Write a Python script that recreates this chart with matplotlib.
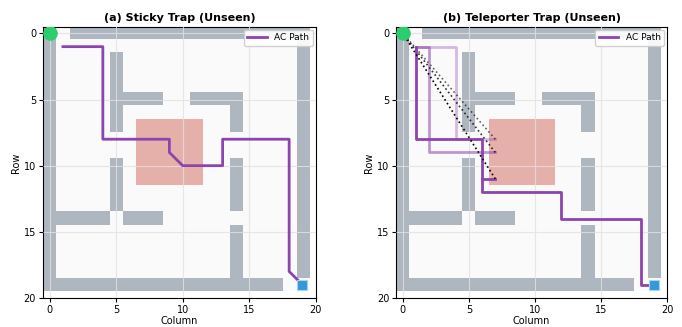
import numpy as np
import matplotlib
matplotlib.use("Agg")
import matplotlib.pyplot as plt
from matplotlib.colors import to_rgb

# maze layout: 20x20 cells, walls given as (row_start, row_end, col_start, col_end) runs
N = 20
WALL_RUNS = [
    (0, 19, 0, 0),     # left border
    (0, 0, 2, 19),     # top border
    (0, 18, 19, 19),   # right border
    (19, 19, 0, 17),   # bottom border
    (2, 7, 5, 5),
    (5, 5, 5, 8),
    (5, 5, 11, 14),
    (5, 7, 14, 14),
    (10, 13, 5, 5),
    (10, 13, 14, 14),
    (14, 14, 0, 4),
    (14, 14, 6, 8),
    (15, 19, 14, 14),
]
TRAP_ROWS = (7, 11)
TRAP_COLS = (7, 11)
START = (0, 0)
GOAL = (19, 19)

# (col, row) waypoints of the agent
PATH_A = [(1, 1), (4, 1), (4, 8), (9, 8), (9, 9), (10, 10), (13, 10), (13, 8),
          (18, 8), (18, 18), (19, 19)]

# teleporter run: each attempt ends in the trap and jumps back to start
PATH_B_ATTEMPTS = [
    [(1, 1), (4, 1), (4, 8), (7, 8)],
    [(1, 1), (2, 1), (2, 9), (7, 9)],
    [(1, 1), (1, 8), (6, 8), (6, 11), (7, 11)],
]
PATH_B_FINAL = [(6, 11), (6, 12), (12, 12), (12, 14), (18, 14), (18, 19), (19, 19)]
ATTEMPT_ALPHA = [0.35, 0.55, 1.0]

TITLES = ["(a) Sticky Trap (Unseen)", "(b) Teleporter Trap (Unseen)"]

WALL_C = "#aeb6bf"
FREE_C = "#fafafa"
TRAP_C = "#e6b0aa"
PATH_C = "#8e44ad"


def maze_image():
    img = np.ones((N, N, 3)) * np.array(to_rgb(FREE_C))
    for r0, r1, c0, c1 in WALL_RUNS:
        img[r0:r1 + 1, c0:c1 + 1] = to_rgb(WALL_C)
    img[TRAP_ROWS[0]:TRAP_ROWS[1] + 1, TRAP_COLS[0]:TRAP_COLS[1] + 1] = to_rgb(TRAP_C)
    return img


def draw_base(ax, title):
    ax.imshow(maze_image(), extent=(-0.5, N - 0.5, N - 0.5, -0.5),
              interpolation="nearest", aspect="auto", zorder=0)
    ax.set_xlim(-0.5, 20)
    ax.set_ylim(20, -0.5)
    ax.set_xticks([0, 5, 10, 15, 20])
    ax.set_yticks([0, 5, 10, 15, 20])
    ax.grid(True, color="#e2e2e2", alpha=0.8, linewidth=0.8, zorder=1)
    ax.set_axisbelow(False)
    ax.tick_params(labelsize=7, length=3, width=0.8, pad=2)
    ax.set_xlabel("Column", fontsize=7, labelpad=1)
    ax.set_ylabel("Row", fontsize=7, labelpad=2)
    ax.set_title(title, fontsize=8, fontweight="bold", pad=4)
    ax.plot(GOAL[1], GOAL[0], "s", color="#3498db", markersize=7,
            markeredgecolor="#a9d2ef", markeredgewidth=0.8, zorder=4)
    ax.plot(START[1], START[0], "o", color="#2ecc71", markersize=9.5, zorder=5)


def xy(pts):
    return [p[0] for p in pts], [p[1] for p in pts]


fig = plt.figure(figsize=(6.82, 3.27), dpi=100)
ax1 = fig.add_axes([0.063, 0.089, 0.4, 0.829])
ax2 = fig.add_axes([0.581, 0.089, 0.397, 0.829])

draw_base(ax1, TITLES[0])
x, y = xy(PATH_A)
ax1.plot(x, y, color=PATH_C, linewidth=2, zorder=3, label="AC Path")

draw_base(ax2, TITLES[1])
for pts, a in zip(PATH_B_ATTEMPTS, ATTEMPT_ALPHA):
    x, y = xy(pts)
    ax2.plot(x, y, color=PATH_C, linewidth=2, alpha=a, zorder=3)
    # jump back to the start cell
    ax2.plot([pts[-1][0], START[1]], [pts[-1][1], START[0]], ":", color="black",
             linewidth=1.2, alpha=min(1.0, a + 0.25), zorder=3)
x, y = xy(PATH_B_FINAL)
ax2.plot(x, y, color=PATH_C, linewidth=2, zorder=3, label="AC Path")

for ax in (ax1, ax2):
    ax.legend(loc="upper right", fontsize=6.5, handlelength=2.2, borderpad=0.4,
              handletextpad=0.8, borderaxespad=0.3, framealpha=0.9)

fig.savefig("out.png", dpi=100)
